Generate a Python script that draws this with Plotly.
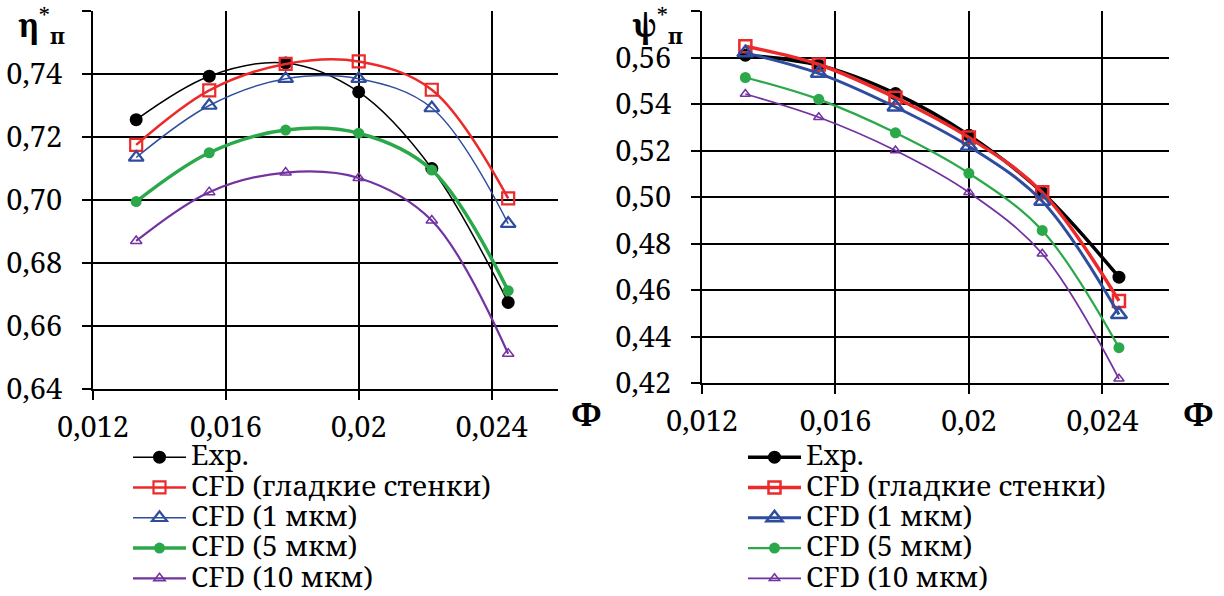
import plotly.graph_objects as go

# ---------------- data ----------------
phi = [0.0133, 0.0155, 0.0178, 0.0200, 0.0222, 0.0245]

series_names = ["Exp.", "CFD (гладкие стенки)", "CFD (1 мкм)", "CFD (5 мкм)", "CFD (10 мкм)"]

eta_exp = [0.7255, 0.7393, 0.7435, 0.7343, 0.7100, 0.6675]
eta_smooth = [0.7175, 0.7348, 0.7432, 0.7440, 0.7350, 0.7005]
eta_1um = [0.7135, 0.7300, 0.7385, 0.7385, 0.7292, 0.6925]
eta_5um = [0.6995, 0.7150, 0.7222, 0.7212, 0.7095, 0.6712]
eta_10um = [0.6870, 0.7025, 0.7087, 0.7070, 0.6935, 0.6512]

psi_exp = [0.5610, 0.5567, 0.5445, 0.5266, 0.5019, 0.4655]
psi_smooth = [0.5648, 0.5570, 0.5427, 0.5256, 0.5020, 0.4553]
psi_1um = [0.5620, 0.5532, 0.5387, 0.5218, 0.4982, 0.4495]
psi_5um = [0.5514, 0.5420, 0.5276, 0.5102, 0.4856, 0.4352]
psi_10um = [0.5443, 0.5343, 0.5200, 0.5020, 0.4756, 0.4218]

x_tickvals = [0.012, 0.016, 0.020, 0.024]
x_ticktext = ["0,012", "0,016", "0,02", "0,024"]
eta_tickvals = [0.64, 0.66, 0.68, 0.70, 0.72, 0.74, 0.76]
eta_ticktext = ["0,64", "0,66", "0,68", "0,70", "0,72", "0,74", ""]
psi_tickvals = [0.42, 0.44, 0.46, 0.48, 0.50, 0.52, 0.54, 0.56, 0.58]
psi_ticktext = ["0,42", "0,44", "0,46", "0,48", "0,50", "0,52", "0,54", "0,56", ""]

# ---------------- styles ----------------
FONT = "Noto Serif, DejaVu Serif"
colors = ["#000000", "#EC2A2A", "#2E4D9E", "#2AA84A", "#7232A0"]
symbols = ["circle", "square-open", "triangle-up-open", "circle", "triangle-up-open"]

left_style = [  # (line width, marker size, marker line width)
    (1.5, 13, 0), (2.5, 12, 2.2), (1.5, 13, 2.2), (3.5, 11, 0), (2.2, 10, 1.5)]
right_style = [
    (3.5, 13, 0), (3.5, 12, 2.5), (3.0, 14, 2.5), (2.2, 11, 0), (1.8, 9, 1.5)]

fig = go.Figure()


def add_series(values, xa, ya, legend, style):
    for i, (vals, name) in enumerate(zip(values, series_names)):
        lw, ms, mlw = style[i]
        fig.add_trace(go.Scatter(
            x=phi, y=vals, xaxis=xa, yaxis=ya, legend=legend,
            name='<span style="font-size:28px">' + name + '</span>',
            mode="lines+markers",
            line=dict(color=colors[i], width=lw, shape="spline", smoothing=1.0),
            marker=dict(symbol=symbols[i], size=ms, color=colors[i],
                        line=dict(color=colors[i], width=mlw)),
        ))


add_series([eta_exp, eta_smooth, eta_1um, eta_5um, eta_10um], "x", "y", "legend", left_style)
add_series([psi_exp, psi_smooth, psi_1um, psi_5um, psi_10um], "x2", "y2", "legend2", right_style)

axis_common = dict(
    showline=True, linecolor="#000000", linewidth=2,
    showgrid=True, gridcolor="#000000", gridwidth=2,
    ticks="outside", ticklen=9, tickwidth=2, tickcolor="#000000",
    tickfont=dict(family=FONT, size=29, color="#000000"),
    zeroline=False, mirror=False, fixedrange=True, automargin=False,
)

fig.update_layout(
    width=1224, height=596,
    margin=dict(l=0, r=0, t=0, b=0, pad=0, autoexpand=False),
    paper_bgcolor="white", plot_bgcolor="white",
    font=dict(family=FONT, color="#000000"),
    xaxis=dict(domain=[93 / 1224, 558 / 1224], anchor="y", range=[0.012, 0.026],
               tickmode="array", tickvals=x_tickvals, ticktext=x_ticktext,
               ticklabelstandoff=2, **axis_common),
    yaxis=dict(domain=[1 - 389 / 596, 1 - 11 / 596], anchor="x", range=[0.64, 0.76],
               tickmode="array", tickvals=eta_tickvals, ticktext=eta_ticktext,
               ticklabelstandoff=14, **axis_common),
    xaxis2=dict(domain=[702 / 1224, 1169 / 1224], anchor="y2", range=[0.012, 0.026],
                tickmode="array", tickvals=x_tickvals, ticktext=x_ticktext,
                ticklabelstandoff=2, **axis_common),
    yaxis2=dict(domain=[1 - 383 / 596, 1 - 11 / 596], anchor="x2", range=[0.42, 0.58],
                tickmode="array", tickvals=psi_tickvals, ticktext=psi_ticktext,
                ticklabelstandoff=14, **axis_common),
    legend=dict(x=128 / 1224, y=1 - 437 / 596, xanchor="left", yanchor="top",
                bgcolor="rgba(0,0,0,0)", borderwidth=0, itemwidth=53,
                font=dict(family=FONT, size=21, color="#000000"), tracegroupgap=0),
    legend2=dict(x=743 / 1224, y=1 - 437 / 596, xanchor="left", yanchor="top",
                 bgcolor="rgba(0,0,0,0)", borderwidth=0, itemwidth=53,
                 font=dict(family=FONT, size=21, color="#000000"), tracegroupgap=0),
    showlegend=True,
)

annotations = [
    dict(text="<b>η</b><sup>*</sup><sub><b>п</b></sub>", x=16 / 1224, y=1 - 26 / 596),
    dict(text="<b>ψ</b><sup>*</sup><sub><b>п</b></sub>", x=630 / 1224, y=1 - 26 / 596),
]
for a in annotations:
    fig.add_annotation(xref="paper", yref="paper", xanchor="left", yanchor="middle",
                       showarrow=False, font=dict(family=FONT, size=32, color="#000000"), **a)

for xc in [586 / 1224, 1198 / 1224]:
    fig.add_annotation(text="<b>Φ</b>", xref="paper", yref="paper", x=xc, y=1 - 413 / 596,
                       xanchor="center", yanchor="middle", showarrow=False,
                       font=dict(family=FONT, size=32, color="#000000"))

fig.write_html("out.html", config={"displayModeBar": False},
               post_script="document.body.style.margin='0px';")
